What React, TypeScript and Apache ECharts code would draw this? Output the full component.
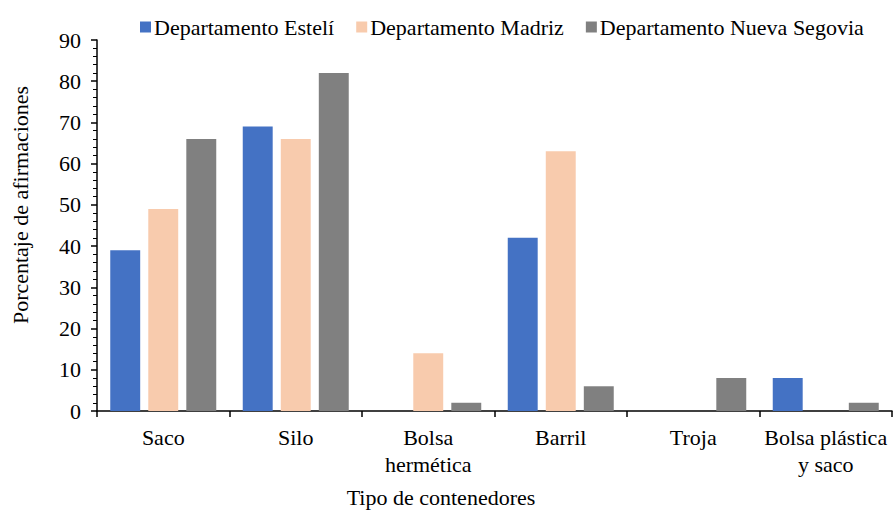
import React, { useEffect, useRef } from "react";
import * as echarts from "echarts";

const categories = ["Saco", "Silo", "Bolsa\nhermética", "Barril", "Troja", "Bolsa plástica\ny saco"];
const esteli = [39, 69, 0, 42, 0, 8];
const madriz = [49, 66, 14, 63, 0, 0];
const nuevaSegovia = [66, 82, 2, 6, 8, 2];
const yTicks = { min: 0, max: 90, interval: 10 };

const FONT = "'Liberation Serif', 'Times New Roman', serif";

export default function App() {
  const ref = useRef<HTMLDivElement>(null);
  useEffect(() => {
    if (!ref.current) return;
    const chart = echarts.init(ref.current, null, { renderer: "svg" });
    const barStyle = (color: string) => ({ color });
    chart.setOption({
      animation: false,
      textStyle: { fontFamily: FONT, color: "#000" },
      legend: {
        top: 11,
        left: 135,
        itemWidth: 11,
        itemHeight: 11,
        itemGap: 22,
        icon: "rect",
        textStyle: { fontFamily: FONT, fontSize: 22, color: "#000", padding: [0, 0, 0, -2] },
        data: ["Departamento Estelí", "Departamento Madriz", "Departamento Nueva Segovia"],
      },
      grid: { left: 97, right: 1, top: 40, bottom: 102, containLabel: false },
      xAxis: {
        type: "category",
        data: categories,
        axisLine: { lineStyle: { color: "#000", width: 1.5 } },
        axisTick: { show: true, length: 6, lineStyle: { color: "#000", width: 1.5 } },
        axisLabel: { fontFamily: FONT, fontSize: 22, color: "#000", margin: 13, lineHeight: 27, interval: 0 },
      },
      yAxis: {
        type: "value",
        min: yTicks.min,
        max: yTicks.max,
        interval: yTicks.interval,
        splitLine: { show: false },
        axisLine: { show: true, lineStyle: { color: "#000", width: 1.5 } },
        axisTick: { show: true, length: 6, lineStyle: { color: "#000", width: 1.5 } },
        minorTick: { show: true, splitNumber: 5, length: 4, lineStyle: { color: "#000", width: 1 } },
        axisLabel: { fontFamily: FONT, fontSize: 22, color: "#000", margin: 16 },
      },
      graphic: [
        {
          type: "text",
          x: 20,
          y: 205,
          rotation: Math.PI / 2,
          style: {
            text: "Porcentaje de afirmaciones",
            font: `22px ${FONT}`,
            fill: "#000",
            align: "center",
            verticalAlign: "middle",
          },
        },
        {
          type: "text",
          x: 441,
          y: 497,
          style: {
            text: "Tipo de contenedores",
            font: `22px ${FONT}`,
            fill: "#000",
            align: "center",
            verticalAlign: "middle",
          },
        },
      ],
      series: [
        { name: "Departamento Estelí", type: "bar", data: esteli, itemStyle: barStyle("#4472C4"), barGap: "27%", barCategoryGap: "20%" },
        { name: "Departamento Madriz", type: "bar", data: madriz, itemStyle: barStyle("#F8CBAD") },
        { name: "Departamento Nueva Segovia", type: "bar", data: nuevaSegovia, itemStyle: barStyle("#808080") },
      ],
    });
    return () => chart.dispose();
  }, []);
  return <div ref={ref} style={{ width: 893, height: 513, position: "absolute", left: 0, top: 0 }} />;
}
